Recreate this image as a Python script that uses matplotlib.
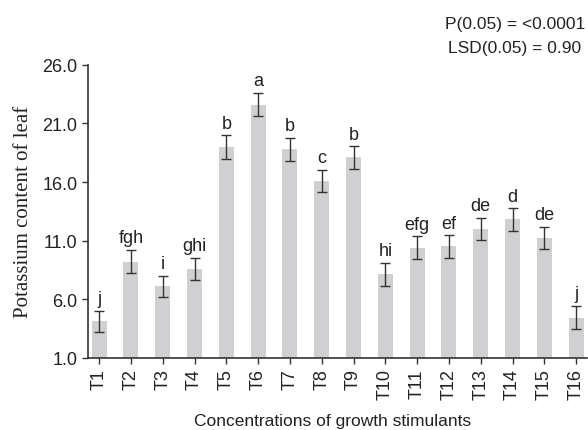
import matplotlib.pyplot as plt
import numpy as np

treatments = ['T%d' % i for i in range(1, 17)]
potassium = [4.1, 9.2, 7.1, 8.6, 19.0, 22.6, 18.8, 16.1, 18.1, 8.1, 10.4, 10.5, 12.0, 12.8, 11.2, 4.4]
errors = [0.9, 1.0, 0.9, 0.95, 1.0, 1.0, 1.0, 0.95, 0.95, 1.0, 0.95, 0.95, 0.95, 0.95, 0.95, 1.0]
letters = ['j', 'fgh', 'i', 'ghi', 'b', 'a', 'b', 'c', 'b', 'hi', 'efg', 'ef', 'de', 'd', 'de', 'j']
yticks = [1.0, 6.0, 11.0, 16.0, 21.0, 26.0]

plt.rcParams['font.family'] = ['Liberation Sans', 'DejaVu Sans']

fig = plt.figure(figsize=(5.88, 4.31), dpi=100)
ax = fig.add_axes([0.1497, 0.168, 0.849, 0.679])

x = np.arange(len(treatments))
ax.bar(x, potassium, width=0.47, color='#d0d0d2', zorder=1)
ax.errorbar(x, potassium, yerr=errors, fmt='none', ecolor='#333333',
            elinewidth=1.0, capsize=3.7, capthick=1.0, zorder=2)

for xi, v, e, lab in zip(x, potassium, errors, letters):
    ax.annotate(lab, (xi, v + e), xytext=(0, 5.5), textcoords='offset points',
                ha='center', va='baseline', fontsize=13, color='#222222')

ax.set_ylim(1, 26)
ax.set_xlim(-0.35, 15.35)
ax.set_yticks(yticks)
ax.set_yticklabels(['%.1f' % t for t in yticks], fontsize=13, color='#222222')
ax.set_xticks(x)
ax.set_xticklabels(treatments, rotation=90, fontsize=13, color='#222222')
ax.tick_params(axis='both', length=4, width=1, color='#333333')

for s in ['top', 'right']:
    ax.spines[s].set_visible(False)
for s in ['left', 'bottom']:
    ax.spines[s].set_color('#333333')
    ax.spines[s].set_linewidth(1.2)

ax.set_ylabel('Potassium content of leaf', family='Liberation Serif', fontsize=15,
              color='#222222', labelpad=7)
fig.text(0.565, 0.021, 'Concentrations of growth stimulants', ha='center', va='center',
         fontsize=12.5, color='#222222')

fig.text(0.995, 0.942, 'P(0.05) = <0.0001', ha='right', va='center', fontsize=12.5, color='#222222')
fig.text(0.989, 0.888, 'LSD(0.05) = 0.90', ha='right', va='center', fontsize=12.5, color='#222222')

fig.savefig('out.png', dpi=100)
